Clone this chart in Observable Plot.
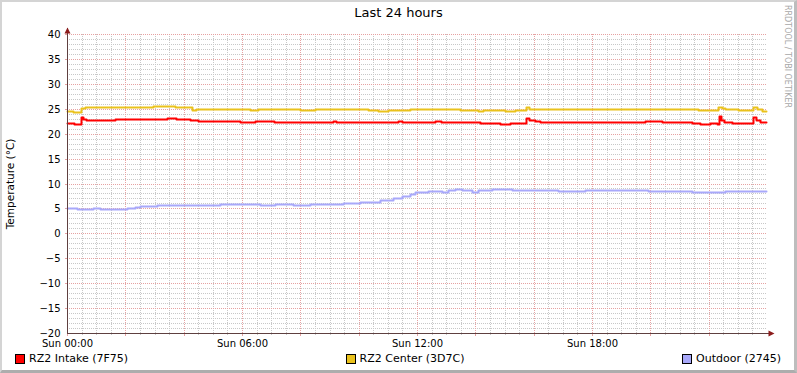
<!DOCTYPE html>
<html>
<head>
<meta charset="utf-8">
<script src="https://cdn.jsdelivr.net/npm/d3@7"></script>
<script src="https://cdn.jsdelivr.net/npm/@observablehq/plot@0.6"></script>
<style>
  html, body { margin: 0; padding: 0; background: #fff; }
  #wrap { position: relative; width: 797px; height: 373px; overflow: hidden; font-family: "DejaVu Sans", sans-serif; background: #fff; }
  #frame { position: absolute; left: 0; top: 0; width: 797px; height: 373px; box-sizing: border-box;
           border-top: 2px solid #d4d4d4; border-left: 2px solid #d4d4d4;
           border-right: 3px solid #bdbdbd; border-bottom: 3px solid #adadad; pointer-events: none; }
  #chart { position: absolute; left: 0; top: 0; }
  #title { position: absolute; left: 0; top: 4px; width: 797px; text-align: center; font-size: 13px; line-height: 18px; color: #000; }
  #legend { position: absolute; left: 15px; right: 16px; top: 352px; height: 13px; display: flex; justify-content: space-between; align-items: center; font-size: 11px; line-height: 13px; color: #000; }
  .item { display: flex; align-items: center; white-space: nowrap; }
  .sw { display: inline-block; width: 8px; height: 8px; border: 1px solid #000; margin-right: 4px; }
  #mark { position: absolute; left: 783px; top: 5px; writing-mode: vertical-rl; font-size: 8px; line-height: 9px; color: #a8a8a8; white-space: nowrap; }
</style>
</head>
<body>
<div id="wrap">
  <div id="chart"></div>
  <div id="title"></div>
  <div id="legend"></div>
  <div id="mark">RRDTOOL / TOBI OETIKER</div>
  <div id="frame"></div>
</div>
<script>
// ---- data (hours since Sun 00:00, °C) ----
const titleText = "Last 24 hours";
const yLabel = "Temperature (°C)";
const seriesNames = ["RZ2 Intake (7F75)", "RZ2 Center (3D7C)", "Outdoor (2745)"];
const seriesColors = ["#ff0000", "#eac21c", "#a8a8fa"];

const intakeT = [0,0.24,0.48,0.55,0.65,1.65,2.37,2.54,3.43,3.74,4.22,4.49,5.93,6.45,7.09,7.99,8.16,9.12,9.22,10.49,10.66,11.35,11.49,12.0,12.62,12.82,13.3,13.47,14.16,14.85,15.19,15.74,15.84,16.05,16.22,19.82,20.4,21.43,21.7,22.05,22.29,22.35,22.42,22.53,22.8,23.49,23.52,23.62,23.76,23.93,23.97];
const intakeV = [22.2,21.95,23.4,23.0,22.8,22.9,23.0,22.95,23.2,22.9,22.7,22.5,22.4,22.5,22.4,22.3,22.4,22.5,22.4,22.3,22.4,22.5,22.4,22.3,22.5,22.3,22.4,22.3,22.1,22.0,22.1,23.2,22.8,22.6,22.3,22.5,22.3,22.1,22.0,22.1,22.0,23.5,22.8,22.4,22.2,22.1,23.3,22.7,22.4,22.3,22.3];

const centerT = [0,0.21,0.48,0.62,1.92,2.95,3.7,4.29,4.42,5.07,5.93,6.27,6.55,7.3,7.99,8.5,9.7,10.32,10.56,10.66,11.0,11.76,13.47,14.09,14.26,15.02,15.36,15.74,15.84,17.93,19.65,21.19,21.63,22.32,22.46,22.56,23.0,23.52,23.66,23.83,23.97];
const centerV = [24.5,24.3,25.2,25.3,25.4,25.55,25.3,24.8,25.0,24.95,24.9,24.8,25.0,24.9,24.8,24.9,24.95,24.7,24.8,24.6,24.8,24.85,24.7,24.5,24.7,24.6,24.7,25.4,25.0,24.95,24.9,24.95,24.7,25.4,25.2,24.95,24.7,25.4,25.0,24.6,24.6];

const outdoorT = [0,0.34,0.89,1.13,2.06,2.33,2.5,3.09,4.32,5.25,6.62,7.13,7.75,8.33,9.46,10.05,10.73,11.18,11.49,11.76,11.93,12.38,12.86,13.06,13.3,13.54,13.89,14.09,14.57,15.26,16.05,16.83,17.76,19.92,21.43,22.56,23.97];
const outdoorV = [5.0,4.8,5.0,4.85,5.1,5.3,5.45,5.6,5.75,5.8,5.7,5.8,5.6,5.9,6.1,6.3,6.7,7.1,7.5,7.8,8.2,8.4,8.2,8.6,8.8,8.6,8.3,8.6,8.9,8.7,8.6,8.5,8.6,8.4,8.2,8.4,8.4];

const yTicks = [-20,-15,-10,-5,0,5,10,15,20,25,30,35,40];
const xLabelHours = [0,6,12,18];
const dayName = "Sun";

// ---- build ----
const seriesT = [intakeT, centerT, outdoorT];
const seriesV = [intakeV, centerV, outdoorV];
const data = [];
seriesNames.forEach((name, i) => seriesT[i].forEach((t, j) => data.push({series: name, t, v: seriesV[i][j]})));

const minorY = d3.range(-19, 40).filter(v => v % 5 !== 0);
const majorY = d3.range(-15, 41, 5);
const minorX = d3.range(0.5, 24, 0.5).filter(h => h % 2 !== 0);
const majorX = d3.range(2, 24, 2);

const minorC = "#c8c8c8", majorC = "#e6a2a2", axisC = "#5e4040", arrowC = "#8c1c1c";
const dotted = {strokeDasharray: "1,1"};
const arrowUp = {draw(c) { c.moveTo(0, -4); c.lineTo(3, 2); c.lineTo(-3, 2); c.closePath(); }};
const arrowRight = {draw(c) { c.moveTo(4, 0); c.lineTo(-2, -3); c.lineTo(-2, 3); c.closePath(); }};

const chart = Plot.plot({
  width: 797, height: 373,
  marginLeft: 67, marginRight: 30, marginTop: 34, marginBottom: 40,
  style: {fontFamily: "DejaVu Sans", fontSize: "10px", color: "#000", background: "transparent"},
  x: {domain: [0, 24], label: null, round: true},
  y: {domain: [-20, 40], label: null, round: true},
  color: {domain: seriesNames, range: seriesColors},
  marks: [
    Plot.ruleY(minorY, {stroke: minorC, ...dotted}),
    Plot.ruleX(minorX, {stroke: minorC, ...dotted}),
    Plot.ruleY(majorY, {stroke: majorC, ...dotted}),
    Plot.ruleX(majorX, {stroke: majorC, ...dotted}),
    Plot.axisX({ticks: minorX, tickSize: 2, tickFormat: () => "", stroke: minorC, label: null}),
    Plot.axisX({ticks: majorX.concat(xLabelHours), tickSize: 3, tickFormat: () => "", stroke: majorC, label: null}),
    Plot.axisY({ticks: majorY, tickSize: 2, tickFormat: () => "", stroke: majorC, label: null}),
    Plot.axisY({ticks: yTicks, tickSize: 0, tickPadding: 7, fill: "#000", label: null, fontSize: 10}),
    Plot.axisX({ticks: xLabelHours, tickSize: 0, tickPadding: 6, fill: "#000", label: null, fontSize: 10,
      tickFormat: h => `${dayName} ${String(h).padStart(2, "0")}:00`}),
    Plot.line(data, {x: "t", y: "v", z: "series", stroke: "series", curve: "step-after", strokeWidth: 2}),
    Plot.ruleY([-20], {x1: 0, x2: 24.1, stroke: axisC}),
    Plot.ruleX([0], {y1: -20, y2: 41.2, stroke: axisC}),
    Plot.dot([0], {frameAnchor: "top-left", dy: -3, symbol: arrowUp, fill: arrowC, stroke: null}),
    Plot.dot([0], {frameAnchor: "bottom-right", dx: 3, symbol: arrowRight, fill: arrowC, stroke: null}),
    Plot.text([yLabel], {frameAnchor: "left", textAnchor: "middle", dx: -57, rotate: -90, fontSize: 10.5, fill: "#000"})
  ]
});
document.getElementById("chart").appendChild(chart);
document.getElementById("title").textContent = titleText;

const legend = document.getElementById("legend");
seriesNames.forEach((name, i) => {
  const item = document.createElement("div");
  item.className = "item";
  const sw = document.createElement("span");
  sw.className = "sw";
  sw.style.background = seriesColors[i];
  item.appendChild(sw);
  item.appendChild(document.createTextNode(name));
  legend.appendChild(item);
});
</script>
</body>
</html>
